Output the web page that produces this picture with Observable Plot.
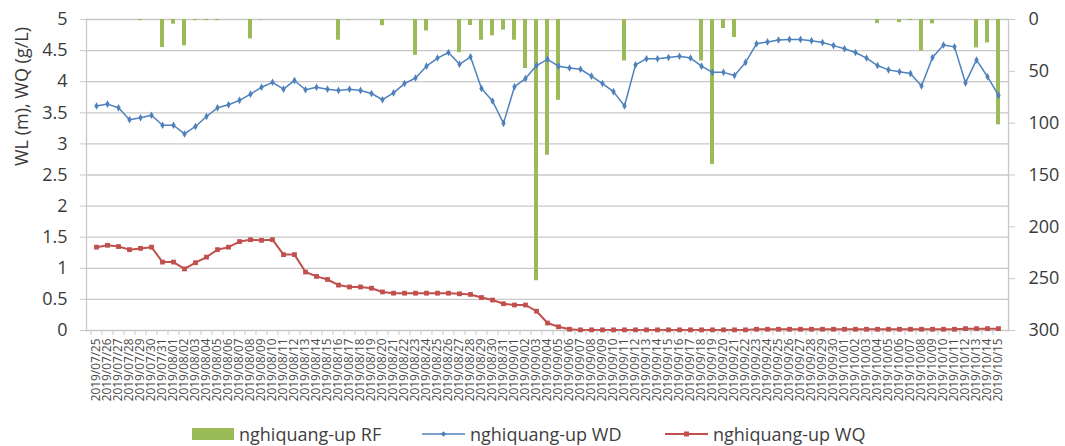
<!DOCTYPE html>
<html>
<head>
<meta charset="utf-8">
<script src="https://cdn.jsdelivr.net/npm/d3@7"></script>
<script src="https://cdn.jsdelivr.net/npm/@observablehq/plot@0.6"></script>
<style>
  body { margin: 0; background: #fff; font-family: "Open Sans", sans-serif; }
  #legend { position: relative; width: 1065px; height: 36px; color: #404040; font-size: 18px; }
  .item { position: absolute; top: 12px; height: 24px; display: flex; align-items: center; white-space: nowrap; }
  .item svg { margin-right: 5px; }
</style>
</head>
<body>
<div id="chart"></div>
<div id="legend"></div>
<script>
const dates = [
  "2019/07/25","2019/07/26","2019/07/27","2019/07/28","2019/07/29","2019/07/30","2019/07/31",
  "2019/08/01","2019/08/02","2019/08/03","2019/08/04","2019/08/05","2019/08/06","2019/08/07","2019/08/08","2019/08/09","2019/08/10",
  "2019/08/11","2019/08/12","2019/08/13","2019/08/14","2019/08/15","2019/08/16","2019/08/17","2019/08/18","2019/08/19","2019/08/20",
  "2019/08/21","2019/08/22","2019/08/23","2019/08/24","2019/08/25","2019/08/26","2019/08/27","2019/08/28","2019/08/29","2019/08/30","2019/08/31",
  "2019/09/01","2019/09/02","2019/09/03","2019/09/04","2019/09/05","2019/09/06","2019/09/07","2019/09/08","2019/09/09","2019/09/10",
  "2019/09/11","2019/09/12","2019/09/13","2019/09/14","2019/09/15","2019/09/16","2019/09/17","2019/09/18","2019/09/19","2019/09/20",
  "2019/09/21","2019/09/22","2019/09/23","2019/09/24","2019/09/25","2019/09/26","2019/09/27","2019/09/28","2019/09/29","2019/09/30",
  "2019/10/01","2019/10/02","2019/10/03","2019/10/04","2019/10/05","2019/10/06","2019/10/07","2019/10/08","2019/10/09","2019/10/10",
  "2019/10/11","2019/10/12","2019/10/13","2019/10/14","2019/10/15"
];

// nghiquang-up RF (right axis, mm, inverted)
const rf = [
  0, 0, 0, 0, 1, 0, 27,
  4.5, 25.5, 1, 1, 1, 0, 0, 18.7, 0.5, 0,
  0, 0, 0, 0, 0, 20, 0.5, 0, 0, 6,
  0, 0, 34.5, 11, 0, 0, 32, 5.8, 20, 15.8, 10.3,
  20, 47.3, 252, 131, 78, 0, 0, 0, 0, 0,
  40, 0, 0, 0, 0, 0, 0, 40, 140, 8.7,
  17.4, 0, 0, 0, 0, 0, 0, 0, 0, 0,
  0, 0, 0, 3.9, 0, 3, 1, 30.6, 4.2, 0,
  0, 0, 27.4, 22.6, 101.6
];

// nghiquang-up WD (left axis, m)
const wd = [
  3.61, 3.64, 3.58, 3.39, 3.42, 3.46, 3.30,
  3.30, 3.16, 3.28, 3.44, 3.58, 3.63, 3.70, 3.80, 3.91, 3.99,
  3.88, 4.02, 3.87, 3.91, 3.88, 3.86, 3.88, 3.86, 3.81, 3.71,
  3.82, 3.97, 4.06, 4.25, 4.38, 4.47, 4.28, 4.40, 3.89, 3.69, 3.33,
  3.92, 4.05, 4.26, 4.36, 4.25, 4.22, 4.20, 4.09, 3.97, 3.84,
  3.61, 4.27, 4.37, 4.37, 4.39, 4.41, 4.38, 4.25, 4.15, 4.15,
  4.10, 4.31, 4.61, 4.64, 4.67, 4.68, 4.68, 4.66, 4.63, 4.58,
  4.53, 4.47, 4.38, 4.26, 4.19, 4.16, 4.13, 3.93, 4.39, 4.59,
  4.56, 3.98, 4.35, 4.08, 3.78
];

// nghiquang-up WQ (left axis, g/L)
const wq = [
  1.34, 1.37, 1.35, 1.30, 1.32, 1.34, 1.10,
  1.10, 0.99, 1.09, 1.18, 1.30, 1.34, 1.43, 1.46, 1.45, 1.46,
  1.22, 1.22, 0.94, 0.87, 0.82, 0.73, 0.70, 0.70, 0.68, 0.62,
  0.60, 0.60, 0.60, 0.60, 0.60, 0.60, 0.59, 0.58, 0.53, 0.49, 0.43,
  0.41, 0.41, 0.31, 0.12, 0.06, 0.02, 0.01, 0.01, 0.01, 0.01,
  0.01, 0.01, 0.01, 0.01, 0.01, 0.01, 0.01, 0.01, 0.01, 0.01,
  0.01, 0.01, 0.02, 0.02, 0.02, 0.02, 0.02, 0.02, 0.02, 0.02,
  0.02, 0.02, 0.02, 0.02, 0.02, 0.02, 0.02, 0.02, 0.02, 0.02,
  0.02, 0.03, 0.03, 0.03, 0.03
];

const leftTicks = [0, 0.5, 1, 1.5, 2, 2.5, 3, 3.5, 4, 4.5, 5];
const rightTicks = [0, 50, 100, 150, 200, 250, 300];
const WL_MAX = 5, RF_MAX = 300;
const rfToY = v => WL_MAX * (1 - v / RF_MAX);
const yToRf = y => Math.round(RF_MAX * (1 - y / WL_MAX));

const rows = dates.map((date, i) => ({date, rf: rf[i], wd: wd[i], wq: wq[i]}));

const W = 1065, H = 410, mL = 86, mR = 57, mT = 19, mB = 80;
const step = (W - mL - mR) / dates.length;
const gridColor = "#c8c8c8";
const textColor = "#3a3a3a";

const chart = Plot.plot({
  width: W, height: H,
  marginLeft: mL, marginRight: mR, marginTop: mT, marginBottom: mB,
  style: {fontFamily: "Open Sans, sans-serif", background: "#fff", overflow: "visible"},
  x: {type: "band", domain: dates, paddingInner: 0.62, paddingOuter: 0.31},
  y: {domain: [0, WL_MAX]},
  marks: [
    Plot.ruleY(leftTicks, {stroke: gridColor, strokeWidth: 1.3}),
    Plot.frame({anchor: "left", stroke: gridColor, strokeWidth: 1.3}),
    Plot.frame({anchor: "right", stroke: gridColor, strokeWidth: 1.3}),
    Plot.barY(rows, {x: "date", y1: () => rfToY(0), y2: d => rfToY(d.rf), fill: "#9BBB59"}),
    Plot.line(rows, {x: "date", y: "wq", stroke: "#C0504D", strokeWidth: 2}),
    Plot.dot(rows, {x: "date", y: "wq", symbol: "square", r: 2.7, fill: "#C0504D"}),
    Plot.line(rows, {x: "date", y: "wd", stroke: "#4F81BD", strokeWidth: 1.5}),
    Plot.dot(rows, {x: "date", y: "wd", symbol: "diamond", r: 2.3, fill: "#4F81BD"}),
    Plot.axisY({anchor: "left", ticks: leftTicks, tickFormat: d => String(d), tickSize: 6, tickPadding: 13,
      fontSize: 18, stroke: gridColor, fill: textColor, label: null}),
    Plot.axisY({anchor: "right", ticks: rightTicks.map(rfToY), tickFormat: yToRf, tickSize: 6, tickPadding: 14,
      fontSize: 18, stroke: gridColor, fill: textColor, label: null}),
    Plot.axisX({anchor: "bottom", tickSize: 5, fill: "none", stroke: gridColor, dx: -step / 2, label: null}),
    Plot.axisX({anchor: "bottom", tickSize: 0, tickPadding: 8, tickRotate: -90, fontSize: 11.8, fill: "#4a4a4a", label: null}),
    Plot.text(["WL (m), WQ (g/L)"], {frameAnchor: "left", rotate: -90, dx: -64, dy: -9, fontSize: 18, fill: textColor})
  ]
});
document.getElementById("chart").appendChild(chart);

// legend
const legend = document.getElementById("legend");
const items = [
  {label: "nghiquang-up RF", left: 192, kind: "bar", color: "#9BBB59"},
  {label: "nghiquang-up WD", left: 422, kind: "diamond", color: "#4F81BD"},
  {label: "nghiquang-up WQ", left: 665, kind: "square", color: "#C0504D"}
];
for (const it of items) {
  const div = document.createElement("div");
  div.className = "item";
  div.style.left = it.left + "px";
  let sw;
  if (it.kind === "bar") {
    sw = `<svg width="42" height="12"><rect width="42" height="12" fill="${it.color}"/></svg>`;
  } else if (it.kind === "diamond") {
    sw = `<svg width="43" height="12"><line x1="0" x2="43" y1="6" y2="6" stroke="${it.color}" stroke-width="1.5"/><path d="M21.5,3.2L24.3,6L21.5,8.8L18.7,6Z" fill="${it.color}"/></svg>`;
  } else {
    sw = `<svg width="43" height="12"><line x1="0" x2="43" y1="6" y2="6" stroke="${it.color}" stroke-width="2"/><rect x="19" y="3.5" width="5" height="5" fill="${it.color}"/></svg>`;
  }
  div.innerHTML = sw + `<span>${it.label}</span>`;
  legend.appendChild(div);
}
</script>
</body>
</html>
